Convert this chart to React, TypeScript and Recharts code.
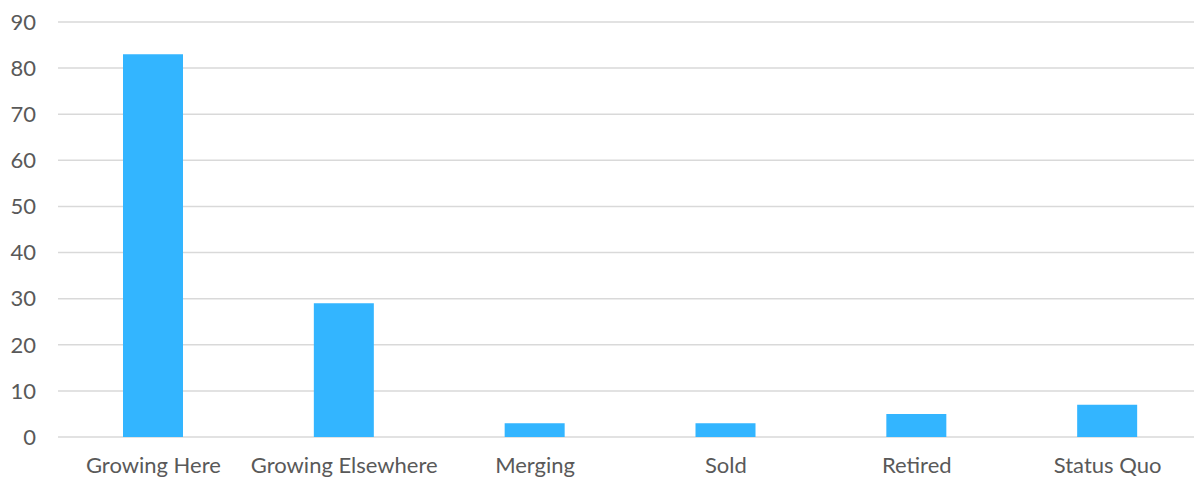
import React from "react"
import { BarChart, Bar, XAxis, YAxis, CartesianGrid } from "recharts"

const categories = ["Growing Here", "Growing Elsewhere", "Merging", "Sold", "Retired", "Status Quo"]
const counts = [83, 29, 3, 3, 5, 7]
const yTicks = [0, 10, 20, 30, 40, 50, 60, 70, 80, 90]

const data = categories.map((name, i) => ({ name, value: counts[i] }))

const tickStyle = { fill: "#595959", fontSize: 22, fontFamily: "Lato, sans-serif" }

export default function App() {
  return (
    <div style={{ position: "absolute", left: 0, top: 0, width: 1194, height: 481, overflow: "hidden", background: "#fff" }}>
      <BarChart width={1203} height={481} data={data} margin={{ top: 22, right: 0, left: 0, bottom: 0 }}>
        <CartesianGrid vertical={false} stroke="#D9D9D9" strokeWidth={1.5} />
        <XAxis
          dataKey="name"
          axisLine={false}
          tickLine={false}
          tickSize={0}
          tickMargin={20}
          height={44}
          tick={tickStyle}
          interval={0}
        />
        <YAxis
          domain={[0, 90]}
          ticks={yTicks}
          axisLine={false}
          tickLine={false}
          tickSize={0}
          tickMargin={22}
          width={58}
          tick={tickStyle}
        />
        <Bar dataKey="value" fill="#33B5FF" barSize={60} isAnimationActive={false} />
      </BarChart>
    </div>
  )
}
